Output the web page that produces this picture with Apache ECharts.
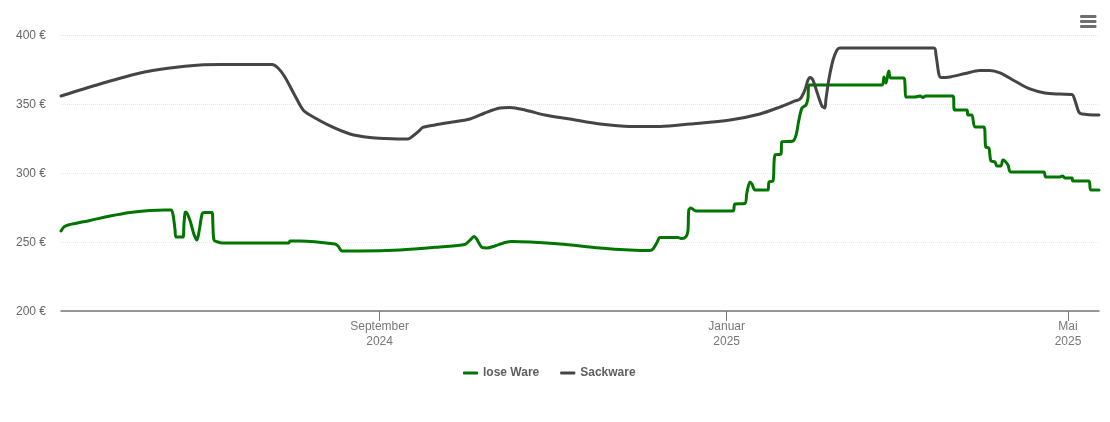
<!DOCTYPE html>
<html>
<head>
<meta charset="utf-8">
<script src="https://cdn.jsdelivr.net/npm/echarts@6/dist/echarts.min.js"></script>
<style>html,body{margin:0;padding:0;background:#fff}#c{width:1110px;height:422px}</style>
</head>
<body>
<div id="c"></div>
<script>
const startDate = [2024, 4, 12];
const lastDay = 364.9;
const seriesNames = ['lose Ware', 'Sackware'];
const monthNames = ['Januar','Februar','März','April','Mai','Juni','Juli','August','September','Oktober','November','Dezember'];
const tickDates = [[2024, 8, 1], [2025, 0, 1], [2025, 4, 1]];
const yTicks = [200, 250, 300, 350, 400];

// days since startDate
const looseDays = [0,1.05,2.5,10.2,17.2,24.3,31.3,36.6,38.7,39.4,40.1,40.4,42.9,43.2,43.6,43.9,45.3,46.7,47.8,48.5,49.6,50.3,53.1,53.4,53.8,55.2,56.6,62.9,80.1,80.5,84,96.3,97.4,98.8,105.1,119.2,133.2,142,143.8,145.2,146.2,148,149.7,152.5,156.1,158.5,164.9,175.4,189.5,200,207,208.1,209.5,210.6,216.9,218.3,219.7,220.4,220.7,221.4,223.2,236.2,236.9,240.4,241.1,242.2,242.9,244,248.5,248.9,250.3,251,253.1,253.4,257.3,258.4,259.4,260.5,261.9,262.6,262.9,288.6,289.3,290,291,291.7,296.3,296.7,297,300.2,302,303,304,313.5,314.2,318.5,318.8,320.2,321.3,324.4,325.1,326.2,326.9,328.3,329,330.4,331.1,331.8,332.9,333.9,345.5,346.2,351.1,352.2,352.9,355.4,355.7,361.3,362,364.9];
const looseValues = [258,260.9,262.3,265.6,268.8,271.4,272.8,273.2,273.2,269.6,258.7,253.6,253.6,262.3,271,271.7,265.9,255.8,251.4,257.2,270.3,271.4,271.4,262.3,251.4,250,249.3,249.3,249.3,250.7,250.7,248.5,247.1,243.5,243.5,244.2,246.4,248.2,251.4,254,251.9,246.1,245.7,247.1,249.6,250.4,250,248.6,245.7,244.2,243.8,244.9,249.6,253.2,253.2,252.5,253.9,258.3,273.2,274.6,272.5,272.5,277.5,277.9,285.5,293.5,292,287.7,287.7,293.5,294.2,313,313.8,322.5,323.2,327.5,338.4,347.1,349.3,354.3,363.8,363.8,369.6,365.2,373.9,368.8,368.8,363.8,355.1,355.1,355.8,354.7,355.8,355.8,345.7,345.7,342,342,333.3,333.3,318.8,318.1,308.7,308,305.1,305.1,309.4,308.7,305.8,300.7,300.7,297.1,297.1,297.8,296.4,296.4,294.2,294.2,287.7,287.7];

const sackDays = [0,13.7,27.8,38.3,48.9,55.9,74.2,76.3,78.7,82.3,85.1,87.5,94.6,101.6,108.6,113.9,122,123.7,125.8,127.2,131.5,136.7,143.8,149,154.3,157.8,163.1,170.1,178.9,189.5,200,210.6,221.1,235.2,245.7,252.7,258,259.8,261.5,262.6,263.3,264.3,266.1,267.5,268.5,268.9,269.9,271.4,272.8,273.8,306.9,307.6,308.6,309.3,312.5,317.8,323,326.5,330.1,335.3,340.6,345.9,351.1,355.4,356.4,357.8,358.9,364.9];
const sackValues = [355.8,364.5,372.5,376.1,378.3,378.6,378.6,376.1,369.6,355.8,345.7,342,334.1,328.3,325.7,325,324.6,326.8,330.4,333,334.8,336.6,339.1,343.5,347.1,347.5,345.7,342,339.1,335.5,333.7,333.7,335.5,338.4,342.8,347.8,352.2,353.6,360.1,367.4,369.2,367.4,356.5,348.6,347.1,353.2,367.4,381.9,389.1,390.6,390.6,385.5,371.7,369.2,369.6,372.1,374.3,374.3,372.5,366.7,360.9,358,357.2,356.9,352.9,344.2,342.8,342];

const colors = ['#007500', '#454545'];
const dayToTime = d => new Date(startDate[0], startDate[1], startDate[2]).getTime() + d * 86400000;
const zip = (days, vals) => days.map((d, i) => [dayToTime(d), vals[i]]);
const ticks = tickDates.map(t => new Date(t[0], t[1], t[2]).getTime());

const chart = echarts.init(document.getElementById('c'), null, {renderer: 'canvas'});
const line = (name, days, vals, color) => ({
  name, type: 'line', data: zip(days, vals), showSymbol: false, symbol: 'none',
  smooth: 0.3,
  lineStyle: {color, width: 3, cap: 'round', join: 'round'}, itemStyle: {color},
  emphasis: {disabled: true}
});
const menuBars = [15, 20, 25].map(y => ({
  type: 'rect', shape: {x: 1080, y, width: 16.5, height: 3, r: 1.2}, style: {fill: '#6e6e6e'}, silent: true
}));
chart.setOption({
  animation: false,
  backgroundColor: '#fff',
  textStyle: {fontFamily: '"Liberation Sans", Arial, sans-serif'},
  grid: {left: 61, right: 11, top: 35, bottom: 111},
  legend: {
    data: seriesNames.map((name) => ({name, icon: 'roundRect'})),
    left: 458, top: 362, itemWidth: 15, itemHeight: 3, itemGap: 21,
    selectedMode: false,
    textStyle: {color: '#5f5f5f', fontSize: 12, fontWeight: 'bold', fontFamily: '"Liberation Sans", Arial, sans-serif'}
  },
  xAxis: {
    type: 'value', min: dayToTime(0), max: dayToTime(lastDay), scale: true,
    axisLine: {show: true, onZero: false, lineStyle: {color: '#777', width: 1.5}},
    axisTick: {show: true, length: 10, customValues: ticks, lineStyle: {color: '#777', width: 1}},
    axisLabel: {
      customValues: ticks, color: '#777', fontSize: 12, lineHeight: 15, margin: 8, hideOverlap: false,
      formatter: v => { const d = new Date(v); return monthNames[d.getMonth()] + '\n' + d.getFullYear(); }
    },
    splitLine: {show: false}
  },
  yAxis: {
    type: 'value', min: yTicks[0], max: yTicks[yTicks.length - 1], interval: 50,
    axisLine: {show: false}, axisTick: {show: false},
    axisLabel: {color: '#666', fontSize: 12, margin: 15, verticalAlign: 'top', lineHeight: 12, padding: [-5, 0, 0, 0], formatter: v => v + ' €'},
    splitLine: {show: true, lineStyle: {color: '#e6e6e6', type: 'dotted', width: 1}}
  },
  series: [line(seriesNames[0], looseDays, looseValues, colors[0]), line(seriesNames[1], sackDays, sackValues, colors[1])],
  graphic: menuBars
});
</script>
</body>
</html>
